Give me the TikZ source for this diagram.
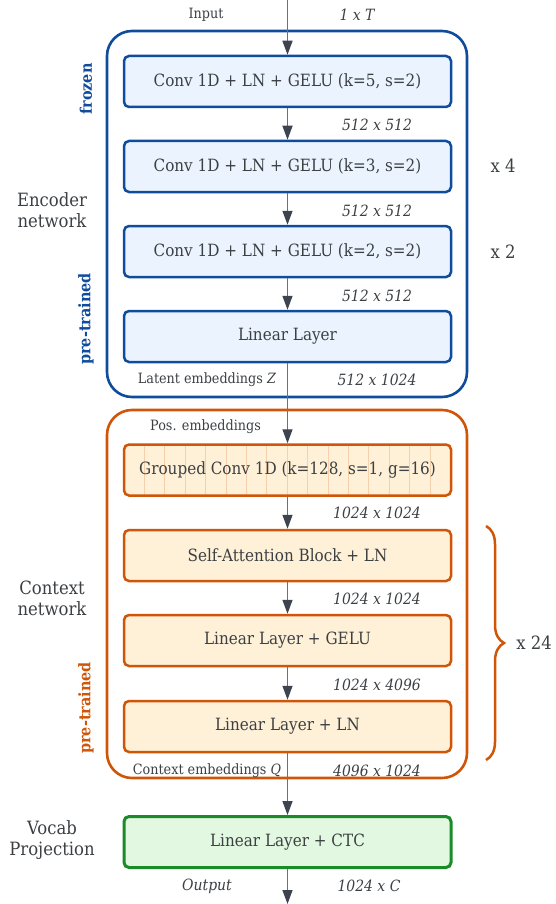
\documentclass[tikz,border=0pt]{standalone}
\usepackage{fontspec}
\setmainfont[FakeStretch=0.9]{DejaVu Serif}
\usetikzlibrary{arrows.meta,decorations.pathreplacing}
\definecolor{txt}{HTML}{3C4043}
\definecolor{blueB}{HTML}{0F4C9C}
\definecolor{blueF}{HTML}{EBF4FE}
\definecolor{oraB}{HTML}{CF5508}
\definecolor{oraF}{HTML}{FFF1D8}
\definecolor{gridl}{HTML}{F4D0AC}
\definecolor{greB}{HTML}{1B8A28}
\definecolor{greF}{HTML}{E2F8E1}
\definecolor{arrL}{HTML}{707070}
\definecolor{arrH}{HTML}{3D4450}
\tikzset{
  every node/.style={text=txt, inner sep=0pt},
  layer/.style={rounded corners=5pt, line width=2.5pt, minimum width=327pt, minimum height=51pt, font=\fontsize{16.9}{20}\selectfont},
  encbox/.style={layer, draw=blueB, fill=blueF},
  ctxbox/.style={layer, draw=oraB, fill=oraF},
  vocbox/.style={layer, draw=greB, fill=greF, line width=3pt},
  outerbox/.style={rounded corners=25pt, line width=2.6pt},
  arr/.style={draw=arrL, line width=1.4pt, -{Triangle[width=10pt,length=14pt,color=arrH]}},
  dimlab/.style={font=\fontsize{15.5}{18}\selectfont\itshape},
  smalllab/.style={font=\fontsize{14.2}{17}\selectfont},
  sidelab/.style={font=\fontsize{18.3}{21}\selectfont, align=center},
  replab/.style={font=\fontsize{18.3}{20}\selectfont},
  rotlab/.style={font=\fontsize{16}{18}\selectfont\bfseries, rotate=90},
}
\begin{document}
\begin{tikzpicture}[x=1pt,y=-1pt]
\useasboundingbox (0,0) rectangle (555,904);
% outer containers
\draw[outerbox, draw=blueB] (107,31) rectangle (467,397);
\draw[outerbox, draw=oraB] (107,410) rectangle (467,778);
% encoder layers
\node[encbox] (e1) at (287.5,81.5) {Conv 1D + LN + GELU (k=5, s=2)};
\node[encbox] (e2) at (287.5,166.5) {Conv 1D + LN + GELU (k=3, s=2)};
\node[encbox] (e3) at (287.5,251.5) {Conv 1D + LN + GELU (k=2, s=2)};
\node[encbox] (e4) at (287.5,336.5) {Linear Layer};
% context layers
\node[ctxbox, path picture={
  \foreach \k in {1,...,15}
    \draw[gridl, line width=0.9pt] ([xshift=\k*20.4pt]path picture bounding box.north west) -- ([xshift=\k*20.4pt]path picture bounding box.south west);
}] (c0) at (287.5,470) {Grouped Conv 1D (k=128, s=1, g=16)};
\node[ctxbox] (c1) at (287.5,555.5) {Self-Attention Block + LN};
\node[ctxbox] (c2) at (287.5,640.5) {Linear Layer + GELU};
\node[ctxbox] (c3) at (287.5,726.5) {Linear Layer + LN};
% vocab
\node[vocbox] (v) at (287.5,842) {Linear Layer + CTC};
% arrows
\coordinate (in) at (287.5,0);
\coordinate (out) at (287.5,904);
\draw[arr] (in) -- (e1);
\draw[arr] (e1) -- (e2);
\draw[arr] (e2) -- (e3);
\draw[arr] (e3) -- (e4);
\draw[arr] (e4) -- (c0);
\draw[arr] (c0) -- (c1);
\draw[arr] (c1) -- (c2);
\draw[arr] (c2) -- (c3);
\draw[arr] (c3) -- (v);
\draw[arr] (v) -- (out);
% labels
\node[smalllab] (lin) at (206,15) {Input};
\node[dimlab] (d0) at (357,15) {1 x T};
\node[dimlab] (d1) at (377,125) {512 x 512};
\node[dimlab] (d2) at (377,211) {512 x 512};
\node[dimlab] (d3) at (377,296) {512 x 512};
\node[smalllab] (llat) at (207,380) {Latent embeddings \textit{Z}};
\node[dimlab] (d4) at (377,380) {512 x 1024};
\node[smalllab] (lpos) at (205.5,427) {Pos. embeddings};
\node[dimlab] (d5) at (377,513) {1024 x 1024};
\node[dimlab] (d6) at (377,599) {1024 x 1024};
\node[dimlab] (d7) at (377,685) {1024 x 4096};
\node[smalllab] (lctx) at (207,771) {Context embeddings \textit{Q}};
\node[dimlab] (d8) at (377,771) {4096 x 1024};
\node[dimlab] (lout) at (207,886) {Output};
\node[dimlab] (d9) at (369,886) {1024 x C};
% side labels
\node[sidelab] (senc) at (52,210) {Encoder\\network};
\node[sidelab] (sctx) at (52,598) {Context\\network};
\node[sidelab] (svoc) at (52,840) {Vocab\\Projection};
\node[rotlab, text=blueB] (fr) at (86,89) {frozen};
\node[rotlab, text=blueB] (pt1) at (86,319) {pre-trained};
\node[rotlab, text=oraB] (pt2) at (86,708) {pre-trained};
% repeats
\node[replab] (r4) at (503,166) {x 4};
\node[replab] (r2) at (503,252) {x 2};
\draw[oraB, line width=2.5pt, decorate, decoration={brace, amplitude=18pt}] (486,526) -- (486,760);
\node[replab] (r24) at (534,643) {x 24};
\end{tikzpicture}
\end{document}
